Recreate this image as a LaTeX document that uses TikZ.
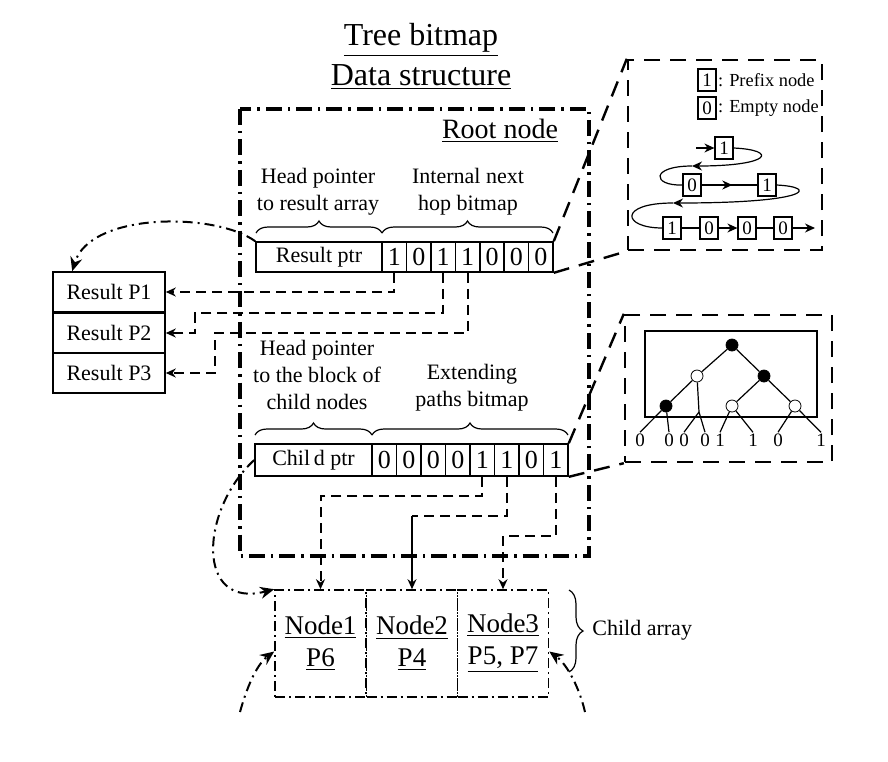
\documentclass[tikz,border=0pt]{standalone}
\usepackage{fontspec}
\setmainfont{Liberation Serif}
\usetikzlibrary{arrows.meta,decorations.pathreplacing,decorations.markings,fit}
\newcommand{\fs}[1]{\fontsize{#1}{1.2\dimexpr#1pt\relax}\selectfont}

\tikzset{
  bitcell/.style={draw, line width=0.8pt, minimum width=12.2pt, minimum height=15pt, inner sep=0pt, font=\fontsize{13}{13}\selectfont},
  ptrbox/.style={draw, line width=0.8pt, minimum height=15pt, inner sep=0pt, font=\fontsize{11}{11}\selectfont},
  resbox/.style={draw, line width=0.8pt, minimum width=56pt, minimum height=20pt, inner sep=0pt, font=\fontsize{11}{11}\selectfont},
  childbox/.style={draw, line width=0.8pt, dash pattern=on 5pt off 2pt on 1pt off 2pt, minimum width=45.5pt, minimum height=53.5pt, align=center, font=\fontsize{13.5}{16}\selectfont},
  lbl/.style={align=center, inner sep=0pt, font=\fontsize{11}{13.5}\selectfont},
  link/.style={line width=1pt, dash pattern=on 5pt off 3pt},
  ptrlink/.style={line width=1pt, dash pattern=on 5pt off 2.5pt on 1pt off 2.5pt, -{Stealth[length=7pt,width=6pt]}},
  rootline/.style={line width=1.6pt, dash pattern=on 8pt off 3pt on 1.2pt off 3pt},
  inset/.style={draw, line width=1.2pt, dash pattern=on 8pt off 5pt, inner sep=0pt},
  zoomline/.style={line width=1.2pt, dash pattern=on 8pt off 5pt},
  tbox/.style={draw, line width=0.6pt, fill=white, minimum width=9pt, minimum height=11pt, inner sep=0pt, font=\fontsize{9.5}{9.5}\selectfont},
  tline/.style={line width=0.6pt},
  tip/.style={-{Stealth[length=5pt,width=4.5pt]}},
  midarrow/.style={postaction={decorate}, decoration={markings, mark=at position 0.55 with {\arrow{Stealth[length=5pt,width=4.5pt]}}}},
  full/.style={circle, draw, fill=black, minimum size=6pt, inner sep=0pt},
  open/.style={circle, draw, fill=white, minimum size=6pt, inner sep=0pt},
  leaf/.style={inner sep=0.5pt, font=\fontsize{9.5}{9.5}\selectfont},
  brc/.style={decorate, decoration={brace, amplitude=6pt}, line width=0.6pt}
}

\begin{document}
\begin{tikzpicture}[x=0.5pt, y=-0.5pt]
\useasboundingbox (0,0) rectangle (888,761);

\node[font=\fs{16}] (title1) at (421,40) {\underline{Tree bitmap}};
\node[font=\fs{16}] (title2) at (421,77) {\underline{Data structure}};

\draw[rootline] (240,109) rectangle (589,556);
\node[font=\fs{14}] (rootlbl) at (500,131) {\underline{Root node}};

% next hop bitmap
\node[ptrbox, minimum width=63pt] (rptr) at (319,257) {Result ptr};
\foreach \b [count=\i] in {1,0,1,1,0,0,0}
  \node[bitcell] (rb\i) at (370+24.4*\i,257) {\b};
\node[lbl] (hp1) at (318,192) {Head pointer\\to result array};
\node[lbl] (inh) at (468,192) {Internal next\\hop bitmap};
\draw[brc] (256,233) -- (382,233);
\draw[brc] (382,233) -- (553,233);

% result array
\node[resbox] (res1) at (109,292) {Result P1};
\node[resbox] (res2) at (109,333) {Result P2};
\node[resbox] (res3) at (109,373) {Result P3};
\draw[link, tip] (rb1.south) |- (res1.east);
\draw[link, tip] (rb3.south) |- (195,313) |- (res2.east);
\draw[link, tip] (rb4.south) |- (215,333) |- (res3.east);
\draw[ptrlink] (rptr.north west) .. controls (215,212) and (90,212) .. ([xshift=10pt]res1.north west);

% extending paths bitmap
\node[ptrbox, minimum width=58.5pt, minimum height=16pt] (cptr) at (313.5,460) {Chil\,d ptr};
\foreach \b [count=\i] in {0,0,0,0,1,1,0,1}
  \node[bitcell, minimum width=12.25pt, minimum height=16pt] (cb\i) at (359.75+24.5*\i,460) {\b};
\node[lbl] (hp2) at (317,375) {Head pointer\\to the block of\\child nodes};
\node[lbl] (ext) at (472,388) {Extending\\paths bitmap};
\draw[brc] (255,435) -- (372,435);
\draw[brc] (372,435) -- (568,435);

% child array
\node[childbox] (ch1) at (320.5,643.5) {\underline{Node1}\\\underline{P6}};
\node[childbox] (ch2) at (412,643.5) {\underline{Node2}\\\underline{P4}};
\node[childbox] (ch3) at (503,643.5) {\underline{Node3}\\\underline{P5, P7}};
\draw[brc, decoration={amplitude=7pt}] (569,590) -- (569,672);
\node[lbl, anchor=west] (chl) at (592,630) {Child array};

\draw[link, tip] (cb5.south) -- ++(0,19) -| (ch1.north);
\draw[link] (cb6.south) -- ++(0,39) coordinate (b6) -- (b6 -| ch2.north);
\draw[line width=1pt, tip] (b6 -| ch2.north) -- (ch2.north);
\draw[link, tip] (cb8.south) -- ++(0,59) -| (ch3.north);
\draw[ptrlink] (cptr.west) .. controls (200,510) and (195,610) .. (ch1.north west);

\coordinate (lo1) at (240,712);
\coordinate (lo2) at (585,712);
\draw[ptrlink] (lo1) .. controls (246,690) and (256,665) .. ([yshift=-4pt]ch1.west);
\draw[ptrlink] (lo2) .. controls (580,690) and (568,665) .. ([yshift=-4pt]ch3.east);

% inset: prefix trie as list
\node[inset, fit={(628,60) (822,250)}] (ins1) {};
\draw[zoomline] (rb7.north east) -- (ins1.north west);
\draw[zoomline] (rb7.south east) -- (ins1.south west);
\node[tbox] (k1) at (707,80) {1};
\node[leaf, anchor=west, font=\fontsize{9.2}{9.2}\selectfont] (k1t) at (k1.east) {: Prefix node};
\node[tbox] (k0) at (707,108) {0};
\node[leaf, anchor=west, font=\fontsize{9.2}{9.2}\selectfont] (k0t) at (k0.east) {: Empty node};

\coordinate (s0) at (696,148);
\coordinate (s1) at (692,166);
\coordinate (s2) at (673,203);
\coordinate (s3) at (815,228);
\node[tbox] (t1) at (724,148) {1};
\node[tbox] (t2) at (692,185) {0};
\node[tbox] (t3) at (767,185) {1};
\node[tbox] (t4) at (672,228) {1};
\node[tbox] (t5) at (709,228) {0};
\node[tbox] (t6) at (747,228) {0};
\node[tbox] (t7) at (783,228) {0};
\draw[tline, tip] (s0) -- (t1.west);
\draw[tline, tip] (t1.east) .. controls (778,150) and (772,166) .. (s1);
\draw[tline] (s1) .. controls (650,166) and (652,186) .. (t2.west);
\draw[tline, midarrow] (t2) -- (t3);
\draw[tline, tip] (t3.east) .. controls (818,187) and (812,203) .. (s2);
\draw[tline] (s2) .. controls (618,203) and (622,228) .. (t4.west);
\draw[tline] (t4) -- (t5);
\draw[tline, tip] (t5) -- (t6);
\draw[tline] (t6) -- (t7);
\draw[tline, tip] (t7) -- (s3);

% inset: binary trie
\node[inset, fit={(625,315) (832,462)}] (ins2) {};
\draw[zoomline] (cb8.north east) -- (ins2.north west);
\draw[zoomline] (cb8.south east) -- (ins2.south west);
\draw[tline] (645,331) rectangle (817,417);
\node[full] (n0) at (732,345) {};
\node[open] (n1) at (697,376) {};
\node[full] (n2) at (764,376) {};
\node[full] (n3) at (666,406) {};
\node[open] (n4) at (732,406) {};
\node[open] (n5) at (795,406) {};
\coordinate (m1) at (699,412);
\foreach \x/\v [count=\i] in {640/0,669/0,684/0,705/0,720/1,753/1,778/0,821/1}
  \node[leaf] (l\i) at (\x,440) {\v};
\draw[tline] (n0) -- (n1) (n0) -- (n2) (n1) -- (n3) (n2) -- (n4) (n2) -- (n5) (n1) -- (m1);
\draw[tline] (n3) -- (l1.north) (n3) -- (l2.north) (m1) -- (l3.north) (m1) -- (l4.north);
\draw[tline] (n4) -- (l5.north) (n4) -- (l6.north) (n5) -- (l7.north) (n5) -- (l8.north);
\end{tikzpicture}
\end{document}
